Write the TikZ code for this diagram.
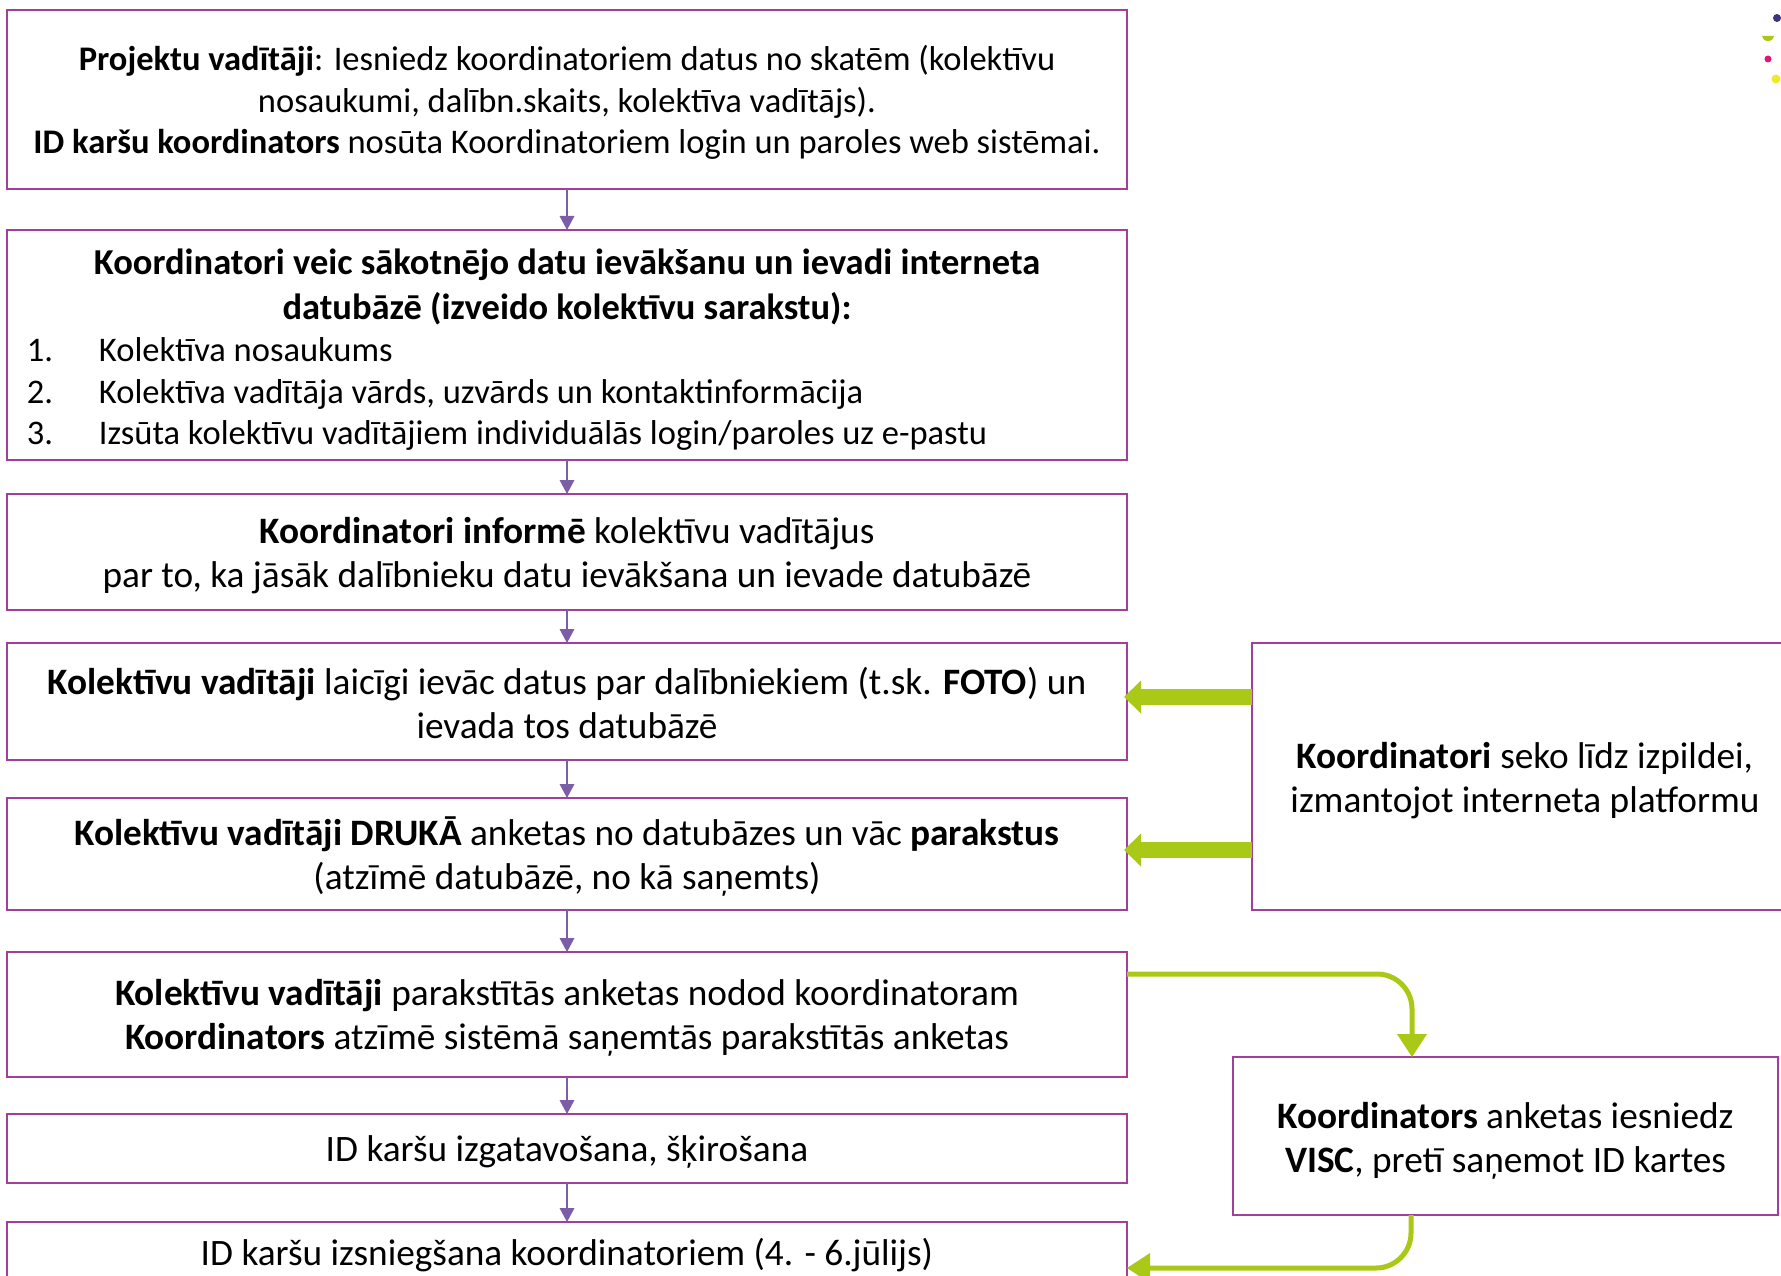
\documentclass[tikz,border=0pt]{standalone}
\usepackage{fontspec}
\setmainfont{Carlito}
\usetikzlibrary{arrows.meta,calc}
\definecolor{boxc}{RGB}{160,64,155}
\definecolor{flowc}{RGB}{123,94,167}
\definecolor{gc}{RGB}{170,201,22}
\definecolor{navyc}{RGB}{60,50,130}
\definecolor{pinkc}{RGB}{225,20,120}
\definecolor{yelc}{RGB}{245,230,40}
\newcommand{\listitem}[2]{\makebox[1120pt][l]{\hspace{20pt}\makebox[72pt][l]{#1}#2}}
\begin{document}
\begin{tikzpicture}[x=1pt,y=-1pt,
  box/.style={draw=boxc, line width=2.6pt, fill=white, inner sep=0pt, outer sep=0pt},
  boxtext/.style={align=center, inner sep=0pt, font=\fontsize{37.3}{44}\selectfont},
  smalltext/.style={align=center, inner sep=0pt, font=\fontsize{34.5}{41.5}\selectfont},
  flow/.style={draw=flowc, line width=1.5pt, -{Triangle[length=14pt,width=15pt,line width=0pt]}},
  gline/.style={draw=gc, line width=5pt, rounded corners=35pt, -{Triangle[length=23pt,width=30pt,line width=0pt]}},
  gblock/.style={draw=gc, line width=16pt, -{Triangle[length=17pt,width=33pt,line width=0pt]}}]
\useasboundingbox (0,0) rectangle (1781,1276);
\clip (0,0) rectangle (1781,1276);

% boxes
\node[box, minimum width=1120pt, minimum height=179pt] (b1) at (567,99.5) {};
\node[box, minimum width=1120pt, minimum height=230pt] (b2) at (567,345) {};
\node[box, minimum width=1120pt, minimum height=116pt] (b3) at (567,552) {};
\node[box, minimum width=1120pt, minimum height=117pt] (b4) at (567,701.5) {};
\node[box, minimum width=1120pt, minimum height=112pt] (b5) at (567,854) {};
\node[box, minimum width=1120pt, minimum height=125pt] (b6) at (567,1014.5) {};
\node[box, minimum width=1120pt, minimum height=69pt] (b7) at (567,1148.5) {};
\node[box, minimum width=1120pt, minimum height=80pt] (b8) at (567,1262) {};
\node[box, minimum width=546pt, minimum height=267pt] (r1) at (1525,776.5) {};
\node[box, minimum width=545pt, minimum height=158pt] (r2) at (1505.5,1136) {};

% texts
\node[smalltext] (b1t) at ([yshift=-3pt]b1.center)
 {\textbf{Projektu vadītāji}: Iesniedz koordinatoriem datus no skatēm (kolektīvu\\
  nosaukumi, dalībn.skaits, kolektīva vadītājs).\\
  \textbf{ID karšu koordinators} nosūta Koordinatoriem login un paroles web sistēmai.};

\node[smalltext] (b2t) at ([yshift=-4.5pt]b2.center)
 {{\fontsize{36.5}{45}\selectfont\bfseries Koordinatori veic sākotnējo datu ievākšanu un ievadi interneta}\\[3.5pt]
  {\fontsize{36.5}{45}\selectfont\bfseries datubāzē (izveido kolektīvu sarakstu):}\\[1pt]
  \listitem{1.}{Kolektīva nosaukums}\\
  \listitem{2.}{Kolektīva vadītāja vārds, uzvārds un kontaktinformācija}\\
  \listitem{3.}{Izsūta kolektīvu vadītājiem individuālās login/paroles uz e-pastu}};

\node[boxtext] (b3t) at ([yshift=-3.5pt]b3.center)
 {\textbf{Koordinatori informē} kolektīvu vadītājus\\
  par to, ka jāsāk dalībnieku datu ievākšana un ievade datubāzē};

\node[boxtext] (b4t) at ([yshift=-1pt]b4.center)
 {\textbf{Kolektīvu vadītāji} laicīgi ievāc datus par dalībniekiem (t.sk. \textbf{FOTO}) un\\
  ievada tos datubāzē};

\node[boxtext] (b5t) at ([yshift=-3pt]b5.center)
 {\textbf{Kolektīvu vadītāji DRUKĀ} anketas no datubāzes un vāc \textbf{parakstus}\\
  (atzīmē datubāzē, no kā saņemts)};

\node[boxtext] (b6t) at ([yshift=-3pt]b6.center)
 {\textbf{Kolektīvu vadītāji} parakstītās anketas nodod koordinatoram\\
  \textbf{Koordinators} atzīmē sistēmā saņemtās parakstītās anketas};

\node[boxtext] (b7t) at ([yshift=-3pt]b7.center)
 {ID karšu izgatavošana, šķirošana};

\node[boxtext, anchor=base] (b8t) at ([yshift=-3pt]b8.center)
 {ID karšu izsniegšana koordinatoriem (4. - 6.jūlijs)};

\node[boxtext] (r1t) at ([yshift=-4.5pt]r1.center)
 {\textbf{Koordinatori} seko līdz izpildei,\\
  izmantojot interneta platformu};

\node[boxtext] (r2t) at ([yshift=-4.5pt]r2.center)
 {\textbf{Koordinators} anketas iesniedz\\
  \textbf{VISC}, pretī saņemot ID kartes};

% flow arrows
\draw[flow] (b1.south) -- (b2.north);
\draw[flow] (b2.south) -- (b3.north);
\draw[flow] (b3.south) -- (b4.north);
\draw[flow] (b4.south) -- (b5.north);
\draw[flow] (b5.south) -- (b6.north);
\draw[flow] (b6.south) -- (b7.north);
\draw[flow] (b7.south) -- (b8.north);

% green block arrows
\draw[gblock] ([yshift=79.5pt]r1.west) -- ([yshift=79.5pt,xshift=-3pt]r1.west -| b4.east);
\draw[gblock] ([yshift=-73.5pt]r1.west) -- ([yshift=-73.5pt,xshift=-3pt]r1.west -| b5.east);

% green connectors
\draw[gline] ([yshift=40.5pt]b6.east) -| ([xshift=-93.5pt]r2.north);
\draw[gline] ([xshift=-94.5pt]r2.south) |- ([yshift=-6pt]b8.east);

% corner decoration
\fill[navyc] (1777,18) circle (4pt);
\fill[gc] (1762,36) -- (1774,36) arc (0:-180:6pt and 5pt) -- cycle;
\fill[pinkc] (1768,59) circle (3.5pt);
\fill[yelc] (1776,79) circle (4.5pt);
\end{tikzpicture}
\end{document}
